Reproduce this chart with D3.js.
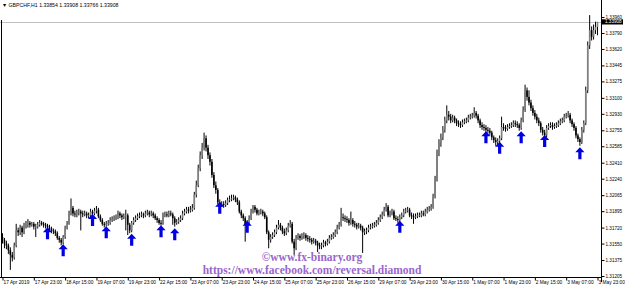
<!DOCTYPE html>
<html>
<head>
<meta charset="utf-8">
<script src="https://cdn.jsdelivr.net/npm/d3@7"></script>
<style>
  body { margin: 0; background: #fff; }
</style>
</head>
<body>
<div id="chart"></div>
<script>
// GBPCHF H1, 17 Apr 2019 07:00 .. 3 May 2019 23:00 (305 bars)
const symbol = "GBPCHF,H1";
const lastQuote = [1.33854, 1.33908, 1.33766, 1.33908];
const firstOpen = 1.3162;

const closes = [
  1.3159,1.3155,1.3153,1.3148,1.3143,1.3140,1.3153,1.3169,1.3167,1.3172,
  1.3167,1.3174,1.3175,1.3177,1.3175,1.3176,1.3173,1.3173,1.3175,1.3177,
  1.3176,1.3175,1.3174,1.3172,1.3171,1.3169,1.3168,1.3166,1.3161,1.3159,
  1.3156,1.3162,1.3172,1.3176,1.3187,1.3193,1.3187,1.3186,1.3188,1.3189,
  1.3187,1.3186,1.3187,1.3185,1.3185,1.3189,1.3187,1.3190,1.3191,1.3184,
  1.3180,1.3176,1.3175,1.3176,1.3177,1.3180,1.3181,1.3182,1.3183,1.3187,
  1.3185,1.3183,1.3184,1.3185,1.3175,1.3169,1.3177,1.3180,1.3182,1.3184,
  1.3185,1.3186,1.3185,1.3187,1.3188,1.3186,1.3187,1.3185,1.3182,1.3180,
  1.3177,1.3176,1.3185,1.3186,1.3185,1.3187,1.3186,1.3182,1.3177,1.3178,
  1.3180,1.3182,1.3187,1.3189,1.3191,1.3190,1.3191,1.3193,1.3207,1.3217,
  1.3235,1.3249,1.3257,1.3267,1.3257,1.3249,1.3242,1.3228,1.3217,1.3212,
  1.3199,1.3196,1.3197,1.3196,1.3198,1.3201,1.3202,1.3203,1.3204,1.3202,
  1.3199,1.3189,1.3185,1.3182,1.3175,1.3177,1.3182,1.3189,1.3194,1.3191,
  1.3187,1.3188,1.3189,1.3187,1.3183,1.3167,1.3159,1.3162,1.3164,1.3167,
  1.3172,1.3175,1.3172,1.3168,1.3166,1.3169,1.3174,1.3176,1.3157,1.3150,
  1.3161,1.3163,1.3161,1.3163,1.3164,1.3161,1.3160,1.3159,1.3157,1.3158,
  1.3156,1.3153,1.3152,1.3153,1.3156,1.3155,1.3157,1.3161,1.3162,1.3164,
  1.3167,1.3172,1.3175,1.3183,1.3182,1.3181,1.3180,1.3177,1.3180,1.3176,
  1.3175,1.3173,1.3174,1.3172,1.3167,1.3168,1.3169,1.3172,1.3173,1.3174,
  1.3175,1.3177,1.3180,1.3183,1.3186,1.3191,1.3194,1.3185,1.3187,1.3189,
  1.3182,1.3181,1.3180,1.3183,1.3185,1.3189,1.3190,1.3191,1.3185,1.3184,
  1.3183,1.3184,1.3185,1.3185,1.3187,1.3186,1.3189,1.3191,1.3192,1.3194,
  1.3205,1.3223,1.3251,1.3262,1.3268,1.3276,1.3286,1.3292,1.3290,1.3286,
  1.3289,1.3286,1.3283,1.3282,1.3281,1.3284,1.3285,1.3286,1.3289,1.3290,
  1.3291,1.3294,1.3291,1.3286,1.3281,1.3279,1.3278,1.3276,1.3275,1.3273,
  1.3268,1.3265,1.3263,1.3264,1.3267,1.3279,1.3278,1.3277,1.3279,1.3280,
  1.3281,1.3283,1.3282,1.3281,1.3278,1.3286,1.3297,1.3318,1.3311,1.3305,
  1.3299,1.3294,1.3290,1.3286,1.3283,1.3276,1.3273,1.3270,1.3278,1.3280,
  1.3281,1.3279,1.3280,1.3281,1.3283,1.3285,1.3286,1.3290,1.3291,1.3292,
  1.3286,1.3282,1.3278,1.3270,1.3266,1.3263,1.3276,1.3283,1.3318,1.3366,
  1.3382,1.3375,1.3382,1.33854,1.33908
];

const highs = [
  1.3166,1.3161,1.3158,1.3155,1.3151,1.3146,1.3156,1.3176,1.3172,1.3175,
  1.3174,1.3177,1.3179,1.3181,1.3179,1.3178,1.3178,1.3176,1.3178,1.3180,
  1.3179,1.3178,1.3177,1.3176,1.3175,1.3173,1.3171,1.3170,1.3168,1.3163,
  1.3161,1.3164,1.3174,1.3179,1.3190,1.3203,1.3195,1.3190,1.3191,1.3192,
  1.3191,1.3190,1.3190,1.3189,1.3188,1.3192,1.3191,1.3193,1.3195,1.3193,
  1.3186,1.3182,1.3178,1.3179,1.3180,1.3183,1.3184,1.3185,1.3186,1.3190,
  1.3189,1.3187,1.3187,1.3191,1.3187,1.3177,1.3179,1.3183,1.3185,1.3187,
  1.3188,1.3189,1.3188,1.3190,1.3191,1.3190,1.3190,1.3189,1.3187,1.3184,
  1.3182,1.3180,1.3188,1.3189,1.3189,1.3190,1.3190,1.3188,1.3184,1.3181,
  1.3183,1.3185,1.3190,1.3192,1.3194,1.3194,1.3195,1.3197,1.3210,1.3222,
  1.3239,1.3253,1.3262,1.3273,1.3270,1.3260,1.3252,1.3245,1.3231,1.3221,
  1.3214,1.3202,1.3200,1.3200,1.3201,1.3204,1.3206,1.3207,1.3207,1.3206,
  1.3204,1.3201,1.3191,1.3187,1.3184,1.3180,1.3185,1.3192,1.3196,1.3196,
  1.3193,1.3191,1.3192,1.3191,1.3189,1.3185,1.3169,1.3165,1.3167,1.3170,
  1.3175,1.3180,1.3177,1.3174,1.3171,1.3172,1.3177,1.3180,1.3178,1.3160,
  1.3164,1.3166,1.3165,1.3166,1.3167,1.3166,1.3164,1.3163,1.3161,1.3161,
  1.3160,1.3158,1.3156,1.3156,1.3159,1.3158,1.3160,1.3164,1.3165,1.3167,
  1.3170,1.3175,1.3178,1.3193,1.3187,1.3185,1.3184,1.3182,1.3189,1.3182,
  1.3179,1.3177,1.3177,1.3176,1.3174,1.3171,1.3172,1.3175,1.3176,1.3177,
  1.3178,1.3180,1.3183,1.3186,1.3189,1.3194,1.3198,1.3196,1.3190,1.3192,
  1.3191,1.3185,1.3184,1.3186,1.3188,1.3192,1.3193,1.3194,1.3193,1.3188,
  1.3187,1.3187,1.3188,1.3188,1.3190,1.3190,1.3192,1.3194,1.3195,1.3197,
  1.3208,1.3227,1.3255,1.3266,1.3272,1.3280,1.3290,1.3302,1.3296,1.3293,
  1.3292,1.3291,1.3288,1.3286,1.3285,1.3287,1.3288,1.3289,1.3292,1.3293,
  1.3294,1.3300,1.3296,1.3293,1.3288,1.3284,1.3282,1.3281,1.3279,1.3278,
  1.3275,1.3270,1.3268,1.3267,1.3270,1.3290,1.3283,1.3281,1.3282,1.3283,
  1.3284,1.3286,1.3286,1.3285,1.3283,1.3289,1.3301,1.3324,1.3321,1.3318,
  1.3308,1.3302,1.3297,1.3293,1.3289,1.3285,1.3279,1.3276,1.3281,1.3283,
  1.3284,1.3284,1.3283,1.3284,1.3286,1.3288,1.3289,1.3293,1.3294,1.3296,
  1.3294,1.3288,1.3284,1.3280,1.3272,1.3268,1.3279,1.3286,1.3322,1.3370,
  1.3398,1.3386,1.3388,1.3391,1.33908
];

const lows = [
  1.3155,1.3150,1.3149,1.3144,1.3127,1.3136,1.3138,1.3151,1.3163,1.3164,
  1.3162,1.3165,1.3171,1.3172,1.3172,1.3173,1.3170,1.3162,1.3171,1.3173,
  1.3174,1.3172,1.3171,1.3170,1.3169,1.3166,1.3165,1.3163,1.3159,1.3156,
  1.3153,1.3154,1.3160,1.3170,1.3175,1.3185,1.3184,1.3183,1.3183,1.3185,
  1.3169,1.3183,1.3184,1.3182,1.3182,1.3183,1.3184,1.3185,1.3187,1.3182,
  1.3178,1.3174,1.3172,1.3173,1.3174,1.3175,1.3178,1.3179,1.3180,1.3181,
  1.3182,1.3180,1.3181,1.3169,1.3164,1.3166,1.3167,1.3175,1.3178,1.3180,
  1.3182,1.3183,1.3182,1.3183,1.3185,1.3183,1.3184,1.3182,1.3180,1.3177,
  1.3175,1.3174,1.3175,1.3183,1.3183,1.3183,1.3184,1.3175,1.3173,1.3175,
  1.3176,1.3178,1.3180,1.3185,1.3187,1.3187,1.3188,1.3189,1.3191,1.3204,
  1.3215,1.3232,1.3245,1.3254,1.3253,1.3245,1.3238,1.3225,1.3214,1.3208,
  1.3197,1.3194,1.3194,1.3193,1.3194,1.3196,1.3199,1.3200,1.3201,1.3199,
  1.3196,1.3187,1.3182,1.3179,1.3157,1.3172,1.3175,1.3180,1.3187,1.3188,
  1.3185,1.3185,1.3186,1.3184,1.3181,1.3165,1.3150,1.3156,1.3160,1.3162,
  1.3165,1.3170,1.3169,1.3165,1.3163,1.3164,1.3167,1.3172,1.3155,1.3143,
  1.3148,1.3159,1.3158,1.3159,1.3160,1.3158,1.3157,1.3156,1.3154,1.3155,
  1.3153,1.3146,1.3149,1.3149,1.3151,1.3152,1.3153,1.3155,1.3159,1.3160,
  1.3162,1.3165,1.3170,1.3173,1.3179,1.3178,1.3177,1.3174,1.3175,1.3173,
  1.3172,1.3170,1.3171,1.3169,1.3145,1.3164,1.3165,1.3167,1.3170,1.3171,
  1.3172,1.3173,1.3175,1.3178,1.3181,1.3184,1.3189,1.3183,1.3183,1.3185,
  1.3180,1.3179,1.3177,1.3178,1.3181,1.3183,1.3187,1.3188,1.3183,1.3181,
  1.3176,1.3181,1.3182,1.3183,1.3183,1.3184,1.3184,1.3187,1.3189,1.3190,
  1.3192,1.3203,1.3221,1.3248,1.3258,1.3265,1.3273,1.3283,1.3286,1.3283,
  1.3284,1.3283,1.3280,1.3279,1.3278,1.3279,1.3282,1.3283,1.3284,1.3287,
  1.3288,1.3289,1.3288,1.3283,1.3278,1.3276,1.3275,1.3273,1.3272,1.3270,
  1.3265,1.3262,1.3259,1.3260,1.3261,1.3265,1.3275,1.3274,1.3275,1.3277,
  1.3278,1.3279,1.3279,1.3278,1.3275,1.3276,1.3284,1.3295,1.3307,1.3302,
  1.3296,1.3291,1.3287,1.3283,1.3280,1.3273,1.3270,1.3267,1.3268,1.3276,
  1.3278,1.3276,1.3277,1.3278,1.3279,1.3281,1.3283,1.3284,1.3288,1.3289,
  1.3283,1.3279,1.3275,1.3267,1.3263,1.3259,1.3261,1.3273,1.3281,1.3315,
  1.3362,1.3371,1.3372,1.3378,1.33766
];

// one date label every 16 bars
const dateLabels = ["17 Apr 2019","17 Apr 23:00","18 Apr 15:00","19 Apr 07:00","19 Apr 23:00",
  "22 Apr 15:00","23 Apr 07:00","23 Apr 23:00","24 Apr 15:00","25 Apr 07:00","25 Apr 23:00",
  "26 Apr 15:00","29 Apr 07:00","29 Apr 23:00","30 Apr 15:00","1 May 07:00","1 May 23:00",
  "2 May 15:00","3 May 07:00","3 May 23:00"];
const priceTicks = [1.33960,1.33790,1.33620,1.33445,1.33275,1.33100,1.32930,1.32755,
  1.32585,1.32410,1.32240,1.32065,1.31895,1.31720,1.31550,1.31375,1.31205];

// buy arrows from the indicator
const signalBars = [23,31,46,53,66,81,88,111,125,203,247,254,265,277,295];
const signalPrices = [1.3166,1.3148,1.3180,1.3167,1.3159,1.3168,1.3165,1.3193,1.3173,
  1.3173,1.3268,1.3257,1.3268,1.3264,1.3251];

const watermark = ["\u00A9www.fx-binary.org", "https://www.facebook.com/reversal.diamond"];

const width = 625, height = 288;
const axisX = 601.5, axisY = 277.5;
const small = "Liberation Sans, Arial, sans-serif";

const svg = d3.select("#chart").append("svg")
  .attr("width", width).attr("height", height);

const x = d3.scaleLinear().domain([0, closes.length - 1]).range([2.5, 597.5]);
const y = d3.scaleLinear().domain([1.31205, 1.33960]).range([276, 17]);

const bars = closes.map((c, i) => ({
  i: i,
  o: i ? closes[i - 1] : firstOpen,
  h: highs[i], l: lows[i], c: c
}));

// current bid line
const bidY = Math.round(y(lastQuote[3])) + 0.5;
svg.append("line")
  .attr("x1", 0).attr("x2", axisX)
  .attr("y1", bidY).attr("y2", bidY)
  .attr("stroke", "#c0c0c0").attr("stroke-width", 1);

const g = svg.append("g");
g.selectAll("line.wick").data(bars).enter().append("line")
  .attr("class", "wick")
  .attr("x1", d => x(d.i)).attr("x2", d => x(d.i))
  .attr("y1", d => y(d.h)).attr("y2", d => y(d.l))
  .attr("stroke", "#000").attr("stroke-width", 1);

g.selectAll("rect.body").data(bars).enter().append("rect")
  .attr("class", "body")
  .attr("x", d => x(d.i) - 0.8).attr("width", 1.6)
  .attr("y", d => y(Math.max(d.o, d.c)))
  .attr("height", d => Math.max(0.6, Math.abs(y(d.o) - y(d.c))))
  .attr("fill", d => d.c >= d.o ? "#808080" : "#000");

// arrows
const arrowPath = "M0,-6L4.6,-1L1.6,-1L1.6,6L-1.6,6L-1.6,-1L-4.6,-1Z";
svg.selectAll("path.signal").data(signalBars).enter().append("path")
  .attr("class", "signal")
  .attr("d", arrowPath)
  .attr("transform", (d, k) => "translate(" + x(d) + "," + y(signalPrices[k]) + ")")
  .attr("fill", "#0000e0");

// frame
svg.append("line").attr("x1", 1.5).attr("x2", 1.5).attr("y1", 20).attr("y2", axisY)
  .attr("stroke", "#000");

// right price axis
const yAxis = d3.axisRight(y).tickValues(priceTicks).tickFormat(d3.format(".5f"))
  .tickSize(3).tickSizeOuter(0);
const ya = svg.append("g").attr("transform", "translate(" + axisX + ",0)").call(yAxis);
ya.select(".domain").attr("d", "M0,0V282").attr("stroke", "#000");
ya.selectAll("text").attr("x", 4).style("font-size", "4.6px").style("font-family", small)
  .attr("fill", "#000");

// current price box
const bid = svg.append("g").attr("transform", "translate(" + axisX + "," + y(lastQuote[3]) + ")");
bid.append("rect").attr("x", 0.5).attr("y", -2.6).attr("width", 21).attr("height", 5.2).attr("fill", "#000");
bid.append("text").attr("x", 3.5).attr("dy", "0.34em")
  .style("font-size", "4.6px").style("font-family", small).attr("fill", "#fff")
  .text(d3.format(".5f")(lastQuote[3]));

// bottom time axis
const xAxis = d3.axisBottom(x).tickValues(dateLabels.map((d, k) => k * 16))
  .tickFormat((d, k) => dateLabels[k]).tickSize(3).tickSizeOuter(0);
const xa = svg.append("g").attr("transform", "translate(0," + axisY + ")").call(xAxis);
xa.select(".domain").attr("d", "M0,0H" + axisX).attr("stroke", "#000");
xa.selectAll("text").attr("text-anchor", "start").attr("x", 0.5).attr("y", 3).attr("dy", "0.8em")
  .style("font-size", "4.8px").style("font-family", small).attr("fill", "#000");

// title
svg.append("text").attr("x", 2).attr("y", 7)
  .style("font-size", "5.2px").style("font-family", small).attr("fill", "#000")
  .text("\u25BC " + symbol + "  " + lastQuote.map(d3.format(".5f")).join(" "));

// watermark
svg.selectAll("text.wm").data(watermark).enter().append("text")
  .attr("class", "wm")
  .attr("x", 312).attr("y", (d, k) => 261 + k * 13)
  .attr("text-anchor", "middle")
  .style("font-family", "'Liberation Serif', 'Times New Roman', serif")
  .style("font-weight", "bold").style("font-size", "11.5px")
  .attr("fill", "#9966cc")
  .text(d => d);
</script>
</body>
</html>
